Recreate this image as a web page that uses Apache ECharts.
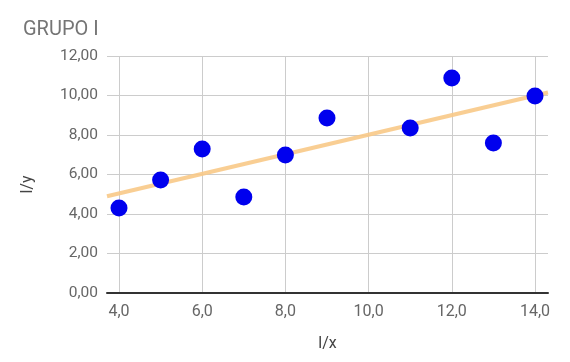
<!DOCTYPE html>
<html><head><meta charset="utf-8">
<script src="https://cdn.jsdelivr.net/npm/echarts@6/dist/echarts.min.js"></script>
<style>html,body{margin:0;padding:0;background:#fff}#c{width:570px;height:362px}</style>
</head><body><div id="c"></div>
<script>
const titleText = "GRUPO I";
const xName = "l/x";
const yName = "l/y";
const xValues = [4, 5, 6, 7, 8, 9, 11, 12, 13, 14];
const yValues = [4.30, 5.72, 7.29, 4.86, 6.99, 8.86, 8.35, 10.89, 7.59, 9.97];
// trend line endpoints (at the plot edges)
const trendX = [3.71, 14.31];
const trendY = [4.90, 10.15];
const yTicks = [0, 2, 4, 6, 8, 10, 12];
const xTicks = [4, 6, 8, 10, 12, 14];

const font = 'Roboto, "Noto Sans", sans-serif';
const chart = echarts.init(document.getElementById('c'), null, {renderer: 'canvas'});
chart.setOption({
  animation: false,
  title: {text: titleText, left: 18, top: 15, textStyle: {fontFamily: font, fontSize: 20, fontWeight: 'normal', color: '#757575'}},
  grid: [
    {left: 107, right: 22, top: 56, bottom: 69},
    {left: 119, right: 35, top: 56, bottom: 69}
  ],
  xAxis: [
    {gridIndex: 0, type: 'value', min: trendX[0], max: trendX[1],
     name: xName, nameLocation: 'middle', nameGap: 43,
     nameTextStyle: {fontFamily: font, fontSize: 16, color: '#444'},
     axisLine: {show: true, onZero: false, lineStyle: {color: '#333', width: 2}},
     axisTick: {show: false}, axisLabel: {show: false}, splitLine: {show: false}},
    {gridIndex: 1, type: 'value', min: xTicks[0], max: xTicks[xTicks.length - 1], interval: 2,
     axisLine: {show: false}, axisTick: {show: false},
     axisLabel: {margin: 11, fontFamily: font, fontSize: 16, color: '#666',
       formatter: v => v.toFixed(1).replace('.', ',')},
     splitLine: {show: true, lineStyle: {color: '#cccccc', width: 1}}}
  ],
  yAxis: [
    {gridIndex: 0, type: 'value', min: yTicks[0], max: yTicks[yTicks.length - 1], interval: 2,
     name: yName, nameLocation: 'middle', nameGap: 71,
     nameTextStyle: {fontFamily: font, fontSize: 16, color: '#444', padding: [0, 0, 0, -20]},
     axisLine: {show: false}, axisTick: {show: false},
     axisLabel: {margin: 9, fontFamily: font, fontSize: 15.5, color: '#666',
       formatter: v => v.toFixed(2).replace('.', ',')},
     splitLine: {show: true, lineStyle: {color: '#cccccc', width: 1}}},
    {gridIndex: 1, type: 'value', min: yTicks[0], max: yTicks[yTicks.length - 1], interval: 2, show: false,
     splitLine: {show: false}}
  ],
  series: [
    {type: 'line', xAxisIndex: 0, yAxisIndex: 0, z: 3, symbol: 'none', silent: true,
     data: trendX.map((x, i) => [x, trendY[i]]),
     lineStyle: {color: '#f8c987', width: 4, opacity: 0.9}},
    {type: 'scatter', xAxisIndex: 1, yAxisIndex: 1, z: 5, symbolSize: 17,
     data: xValues.map((x, i) => [x, yValues[i]]),
     itemStyle: {color: '#0000ee', opacity: 1}}
  ]
});
</script></body></html>
